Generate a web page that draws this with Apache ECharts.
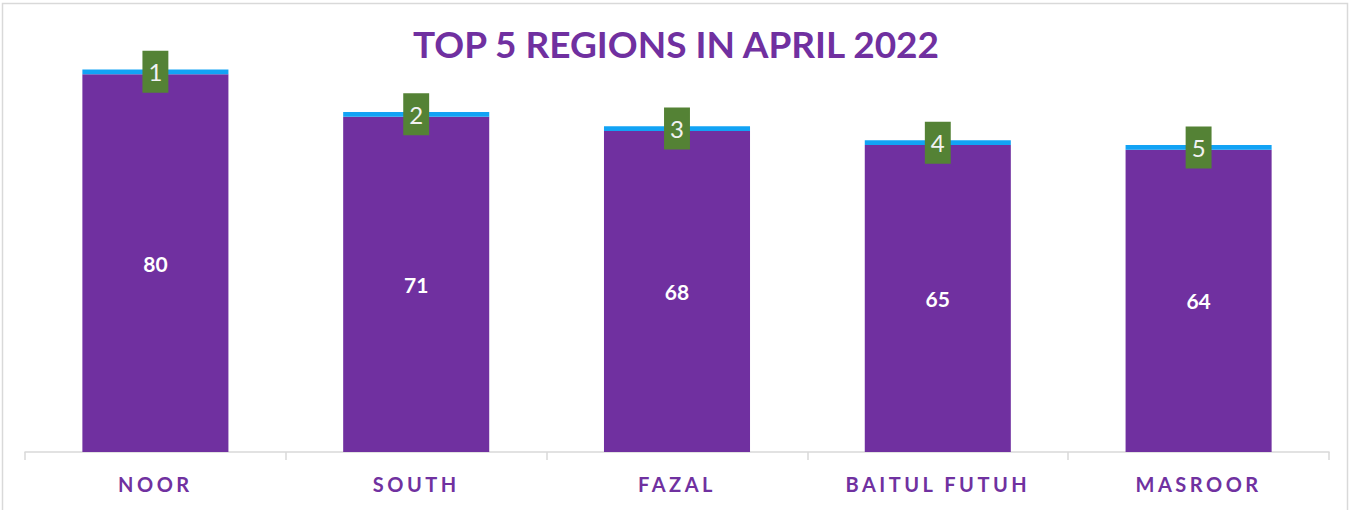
<!DOCTYPE html>
<html>
<head>
<meta charset="utf-8">
<script src="https://cdn.jsdelivr.net/npm/echarts@6/dist/echarts.min.js"></script>
<style>
  html, body { margin: 0; padding: 0; background: #fff; }
  #chart { width: 1352px; height: 510px; }
  /* spaced-out category names under the axis */
  #chart text[fill="#7031a0" i] { letter-spacing: 3.5px; }
</style>
</head>
<body>
<div id="chart"></div>
<script>
const categories = ['NOOR', 'SOUTH', 'FAZAL', 'BAITUL FUTUH', 'MASROOR'];
const scores = [80, 71, 68, 65, 64];
const ranks = [1, 2, 3, 4, 5];
const capValues = [1, 1, 1, 1, 1];

const chart = echarts.init(document.getElementById('chart'), null, { renderer: 'svg' });

chart.setOption({
  animation: false,
  backgroundColor: '#ffffff',
  title: {
    text: 'TOP 5 REGIONS IN APRIL 2022',
    left: 'center',
    top: 20,
    textStyle: { fontFamily: 'Lato', fontWeight: 'bold', fontSize: 37, color: '#7030A0' }
  },
  graphic: [{
    type: 'rect',
    shape: { x: 2.5, y: 3.5, width: 1345, height: 530 },
    style: { fill: 'none', stroke: '#d9d9d9', lineWidth: 1.5 },
    silent: true
  }],
  grid: { left: 25, right: 23, top: 27, bottom: 58 },
  xAxis: {
    type: 'category',
    data: categories,
    axisLine: { lineStyle: { color: '#d9d9d9', width: 1.5 } },
    axisTick: { show: true, length: 8, lineStyle: { color: '#d9d9d9', width: 1.5 } },
    axisLabel: {
      margin: 22,
      fontFamily: 'Lato',
      fontWeight: 'bold',
      fontSize: 20,
      color: '#7031A0'
    }
  },
  yAxis: { type: 'value', min: 0, max: 90, show: false, splitLine: { show: false } },
  series: [
    {
      name: 'Score',
      type: 'bar',
      stack: 'total',
      barWidth: '56%',
      data: scores,
      itemStyle: { color: '#7030A0' },
      label: {
        show: true,
        position: 'inside',
        color: '#ffffff',
        fontFamily: 'Lato',
        fontWeight: 'bold',
        fontSize: 21
      }
    },
    {
      name: 'Rank',
      type: 'bar',
      stack: 'total',
      data: capValues,
      itemStyle: { color: '#12A3F5' },
      label: {
        show: true,
        position: 'inside',
        formatter: p => String(ranks[p.dataIndex]),
        color: '#f2f2f2',
        fontFamily: 'Lato',
        fontSize: 24,
        backgroundColor: '#548235',
        padding: [9, 6, 9, 6]
      }
    }
  ]
});
</script>
</body>
</html>
